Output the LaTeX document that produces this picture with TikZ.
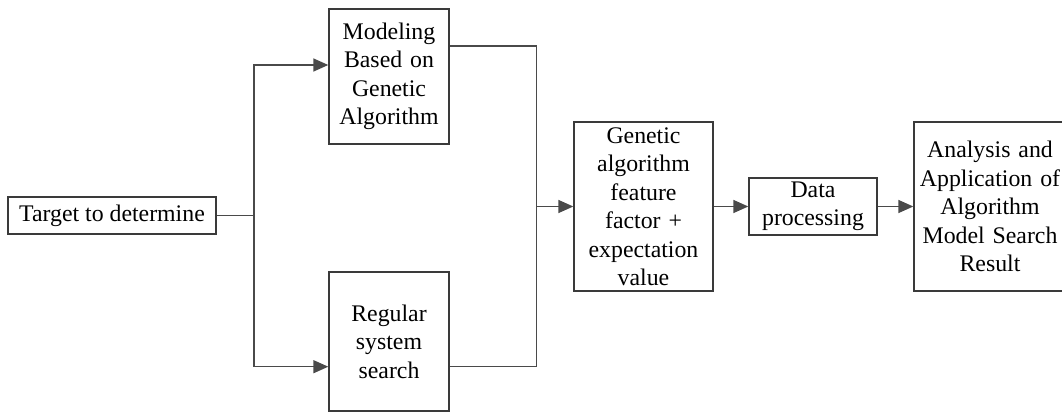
\documentclass[tikz,border=0pt]{standalone}
\usepackage{fontspec}
\setmainfont{Liberation Serif}
\usetikzlibrary{arrows.meta}
\definecolor{boxline}{HTML}{3A3A3A}
\definecolor{conline}{HTML}{4A4A4A}
\tikzset{
  blk/.style={draw=boxline, line width=1.4pt, rectangle, inner sep=0pt, align=center,
    font=\fontsize{23.8}{28.5}\selectfont},
  con/.style={draw=conline, line width=1.5pt},
  arr/.style={con, -{Triangle[length=15pt,width=13pt]}}
}
\begin{document}
\begin{tikzpicture}[x=1pt,y=-1pt]
\useasboundingbox (0,0) rectangle (1062,412);
\clip (0,0) rectangle (1062,412);
\node[blk, minimum width=208pt, minimum height=37pt] (t) at (112,215.5) {Target to determine};
\node[blk, minimum width=120pt, minimum height=135pt, text width=116pt] (m) at (389,76.5) {Modeling\\Based on\\Genetic\\Algorithm};
\node[blk, minimum width=120pt, minimum height=139pt, text width=116pt] (r) at (389,341.5) {Regular\\system\\search};
\node[blk, minimum width=139pt, minimum height=169pt, text width=135pt] (g) at (643.5,206.5) {Genetic\\algorithm\\feature\\factor +\\expectation\\value};
\node[blk, minimum width=128pt, minimum height=57pt, text width=124pt] (d) at (813,206.5) {Data\\processing};
\node[blk, minimum width=152pt, minimum height=169pt, text width=148pt] (a) at (990,206.5) {Analysis and\\Application of\\Algorithm\\Model Search\\Result};
\coordinate (ja) at (254,65);
\coordinate (jb) at (254,366.7);
\coordinate (ka) at (536.7,46);
\coordinate (kb) at (536.7,366.7);
\draw[con] (t.east) -- (t.east -| ja);
\draw[arr] (t.east -| ja) -- (ja) -- (ja -| m.west);
\draw[arr] (t.east -| ja) -- (jb) -- (jb -| r.west);
\draw[con] (m.east |- ka) -- (ka) -- (kb) -- (r.east |- kb);
\draw[arr] (g.west -| ka) -- (g.west);
\draw[arr] (g.east) -- (d.west);
\draw[arr] (d.east) -- (a.west);
\end{tikzpicture}
\end{document}
